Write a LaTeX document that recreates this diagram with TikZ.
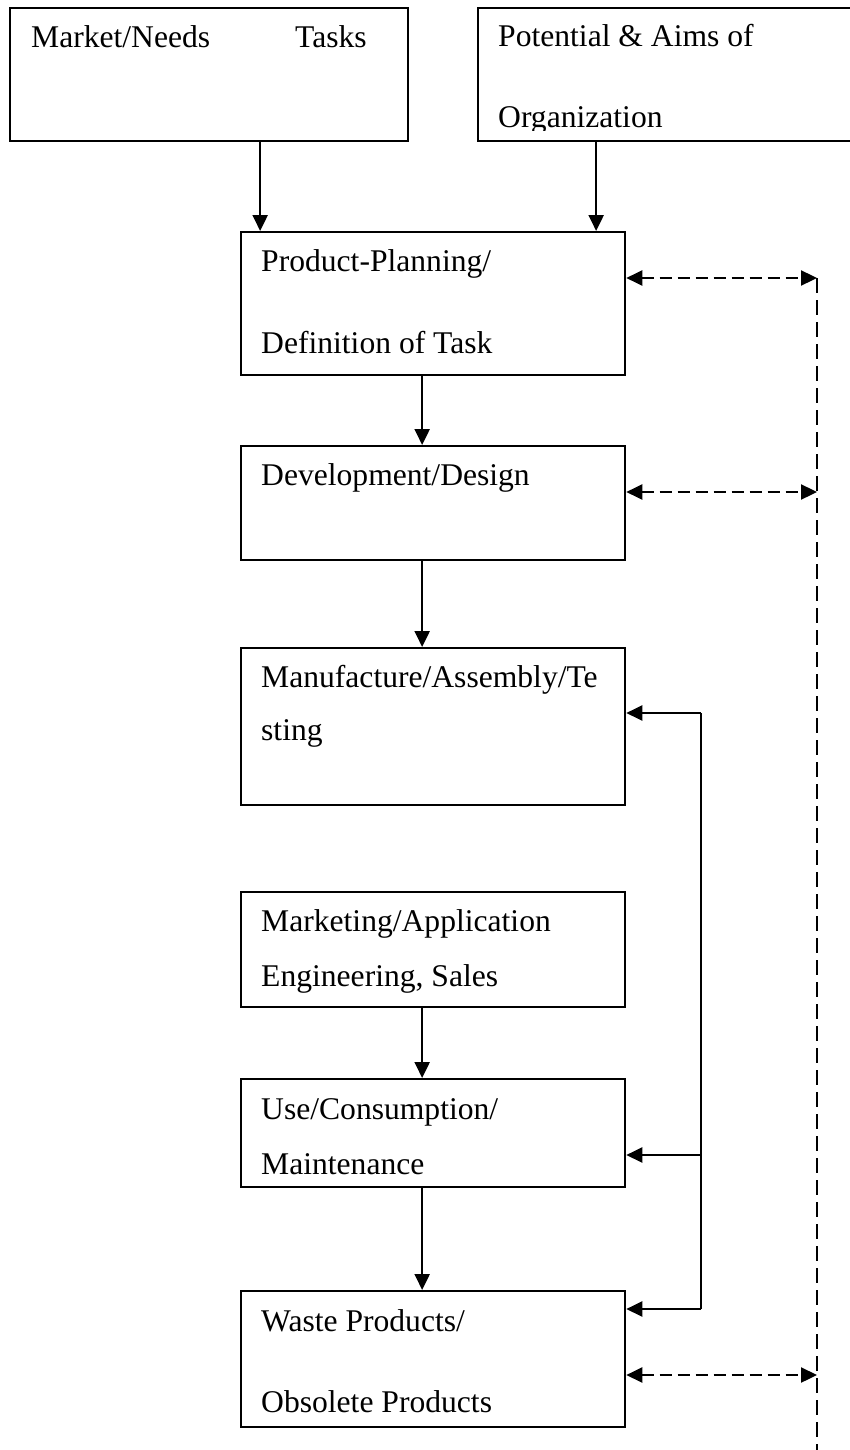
\documentclass[tikz,border=0pt]{standalone}
\usepackage{fontspec}
\setmainfont{Liberation Serif}
\usetikzlibrary{arrows.meta}
\begin{document}
\begin{tikzpicture}[x=1pt,y=-1pt,
  box/.style={draw, line width=2.3pt, inner sep=0pt, anchor=north west},
  txt/.style={anchor=base west, inner sep=0pt, font=\fontsize{31.6}{38}\selectfont},
  conn/.style={line width=2.3pt},
  arr/.style={line width=2.3pt, -{Triangle[length=16pt,width=15pt]}},
  darr/.style={line width=2.3pt, dash pattern=on 12pt off 6pt, {Triangle[length=16pt,width=15pt]}-{Triangle[length=16pt,width=15pt]}},
  dline/.style={line width=2.3pt, dash pattern=on 15pt off 7pt}]
\useasboundingbox (0,0) rectangle (850,1450);

% boxes
\node[box, minimum width=398pt, minimum height=133pt] (mn) at (9,7) {};
\node[box, minimum width=375pt, minimum height=133pt] (pot) at (477,7) {};
\node[box, minimum width=384pt, minimum height=143pt] (plan) at (240,231) {};
\node[box, minimum width=384pt, minimum height=114pt] (dev) at (240,445) {};
\node[box, minimum width=384pt, minimum height=157pt] (mfg) at (240,647) {};
\node[box, minimum width=384pt, minimum height=115pt] (mkt) at (240,891) {};
\node[box, minimum width=384pt, minimum height=108pt] (use) at (240,1078) {};
\node[box, minimum width=384pt, minimum height=136pt] (waste) at (240,1290) {};

% texts
\node[txt] (t1) at (31,48) {Market/Needs};
\node[txt] (t2) at (295,48) {Tasks};
\node[txt] (t3) at (498,47) {Potential \& Aims of};
\begin{scope}
\clip (477,7) rectangle (852,131);
\node[txt] (t4) at (498,128) {Organization};
\end{scope}
\node[txt] (t5) at (261,271) {Product-Planning/};
\node[txt] (t6) at (261,353) {Definition of Task};
\node[txt] (t7) at (261,485) {Development/Design};
\node[txt] (t8) at (261,687) {Manufacture/Assembly/Te};
\node[txt] (t9) at (261,740) {sting};
\node[txt] (t10) at (261,931) {Marketing/Application};
\node[txt] (t11) at (261,986) {Engineering, Sales};
\node[txt] (t12) at (261,1119) {Use/Consumption/};
\node[txt] (t13) at (261,1174) {Maintenance};
\node[txt] (t14) at (261,1331) {Waste Products/};
\node[txt] (t15) at (261,1412) {Obsolete Products};

% main arrows
\draw[arr] ([xshift=51pt]mn.south) -- ([xshift=51pt]mn.south |- plan.north);
\draw[arr] ([xshift=-69.5pt]pot.south) -- ([xshift=-69.5pt]pot.south |- plan.north);
\draw[arr] ([xshift=-11pt]plan.south) -- ([xshift=-11pt]dev.north);
\draw[arr] ([xshift=-11pt]dev.south) -- ([xshift=-11pt]mfg.north);
\draw[arr] ([xshift=-11pt]mkt.south) -- ([xshift=-11pt]use.north);
\draw[arr] ([xshift=-11pt]use.south) -- ([xshift=-11pt]waste.north);

% feedback (solid)
\coordinate (fbtop) at (701,713);
\coordinate (fbmid) at (701,1155);
\coordinate (fbbot) at (701,1309);
\draw[conn] (fbtop) -- (fbbot);
\draw[arr] (fbtop) -- (fbtop -| mfg.east);
\draw[arr] (fbmid) -- (fbmid -| use.east);
\draw[arr] (fbbot) -- (fbbot -| waste.east);

% dashed links
\coordinate (d1) at (817,278);
\coordinate (d2) at (817,492);
\coordinate (d3) at (817,1375);
\coordinate (dend) at (817,1460);
\draw[dline] (d1) -- (dend);
\draw[darr] (d1 -| plan.east) -- (d1);
\draw[darr] (d2 -| dev.east) -- (d2);
\draw[darr] (d3 -| waste.east) -- (d3);
\end{tikzpicture}
\end{document}
